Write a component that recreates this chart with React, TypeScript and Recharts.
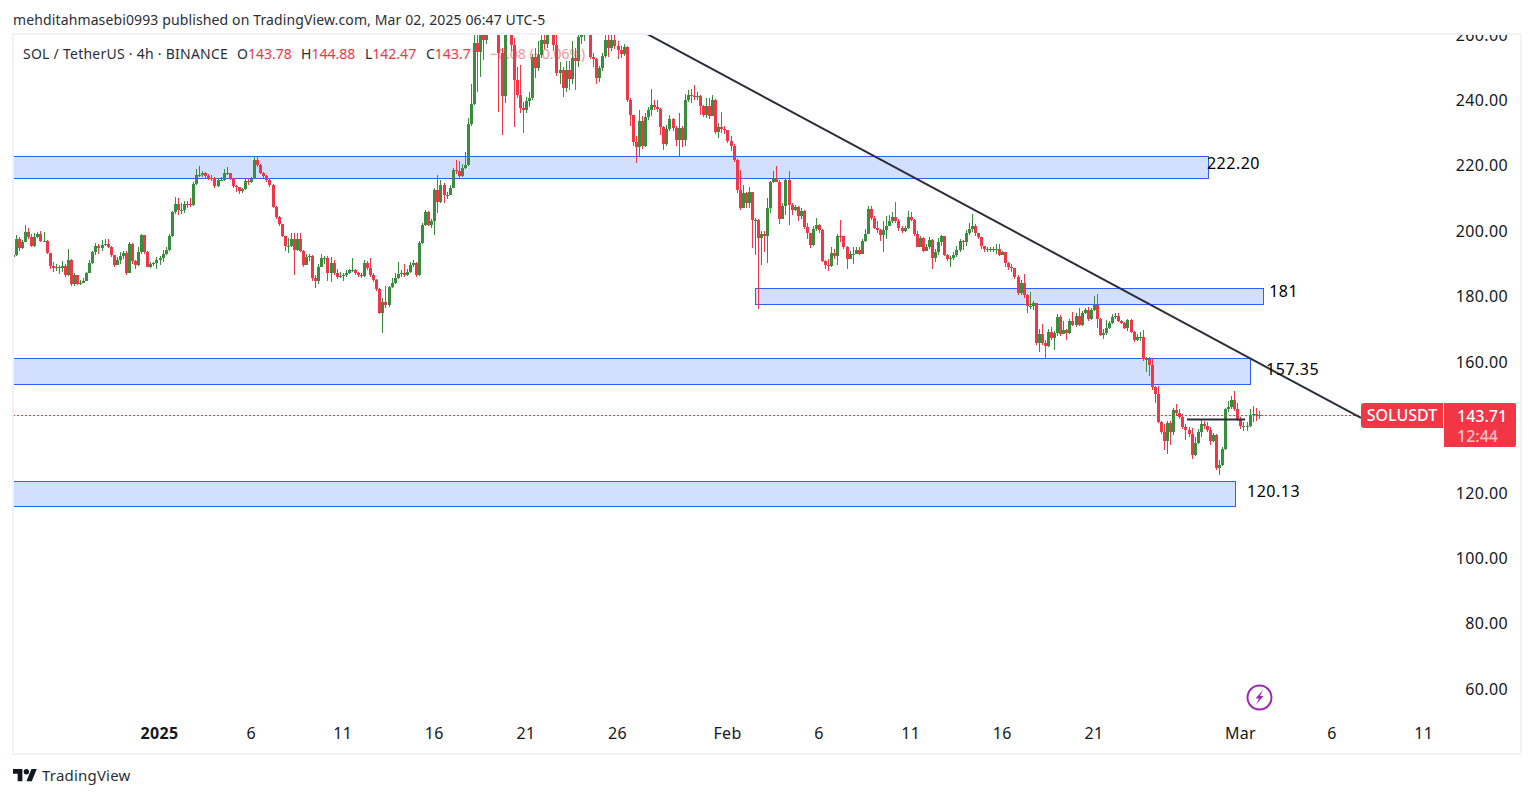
import React from "react";
import {
  ComposedChart,
  Bar,
  XAxis,
  YAxis,
  ReferenceArea,
  ReferenceLine,
  ReferenceDot,
} from "recharts";

const FONT = '"Noto Sans", sans-serif';
const UP = "#388e3c";
const DOWN = "#f23645";
const INK = "#131722";
const ZONE_LINE = "#2962ff";
const ZONE_FILL = "#d3dfff";

// 4h closes from the picture, one line per ten candles
const closes = [
  192.7, 197.5, 194.9, 196.7, 199.6, 198.1, 195.4, 198.1, 199.0, 197.0,
  197.0, 193.2, 189.4, 188.6, 189.1, 188.6, 189.4, 186.5, 191.1, 183.8,
  186.5, 183.8, 184.0, 184.8, 187.1, 190.1, 193.5, 195.4, 194.7, 195.7,
  196.0, 195.0, 192.5, 189.6, 191.1, 192.2, 193.2, 187.1, 196.0, 190.9,
  189.6, 193.5, 198.6, 193.5, 189.1, 189.8, 190.1, 191.1, 191.6, 192.9,
  194.2, 198.3, 205.7, 208.3, 206.4, 206.4, 208.3, 208.2, 208.0, 214.3,
  217.1, 217.1, 217.6, 216.8, 216.3, 216.1, 213.8, 215.6, 215.6, 217.6,
  217.8, 216.1, 213.6, 213.3, 212.2, 212.7, 215.4, 214.8, 215.9, 221.7,
  220.0, 217.8, 216.8, 215.6, 214.1, 207.4, 204.4, 202.1, 198.3, 195.5,
  195.5, 197.6, 194.2, 197.6, 194.0, 189.6, 191.9, 192.2, 185.7, 184.7,
  189.1, 191.6, 191.8, 187.1, 190.3, 187.1, 186.0, 186.3, 186.5, 187.1,
  187.9, 187.9, 187.1, 186.5, 186.2, 190.1, 188.6, 186.5, 185.0, 182.2,
  175.0, 178.4, 177.4, 182.8, 184.0, 185.5, 186.9, 187.1, 186.5, 187.5,
  189.6, 190.1, 186.5, 196.2, 201.8, 205.9, 201.8, 202.9, 212.5, 208.7,
  214.1, 211.0, 211.0, 213.0, 218.7, 218.3, 216.9, 219.2, 220.2, 232.7,
  238.7, 257.4, 254.8, 268.6, 258.4, 270.6, 268.6, 272.7, 264.5, 254.3,
  241.1, 264.5, 269.6, 256.9, 246.2, 241.6, 237.5, 237.0, 239.6, 240.6,
  253.3, 249.9, 253.8, 258.4, 257.2, 261.5, 264.0, 256.9, 248.4, 249.2,
  243.6, 249.2, 246.4, 252.8, 251.8, 259.4, 261.5, 262.5, 263.5, 253.1,
  252.5, 246.7, 249.7, 253.5, 258.4, 255.9, 258.4, 256.4, 255.4, 254.1,
  256.2, 240.1, 235.5, 227.3, 225.5, 233.6, 226.0, 234.7, 237.0, 238.5,
  238.0, 237.2, 231.9, 226.6, 231.1, 234.3, 231.4, 227.8, 231.4, 227.8,
  240.1, 241.6, 241.1, 240.9, 241.1, 238.2, 235.5, 238.3, 235.0, 240.1,
  230.1, 231.7, 231.1, 230.7, 227.6, 226.1, 221.7, 212.5, 206.9, 211.7,
  208.5, 211.9, 203.2, 203.4, 197.8, 199.0, 198.5, 206.9, 214.9, 216.1,
  215.1, 203.7, 207.6, 215.6, 208.0, 206.4, 207.2, 204.6, 206.2, 201.3,
  199.3, 195.7, 200.5, 201.8, 200.3, 190.9, 189.6, 189.4, 193.2, 192.2,
  198.5, 198.3, 195.2, 191.4, 192.9, 193.0, 194.2, 193.0, 196.9, 199.0,
  206.7, 203.8, 201.0, 200.3, 198.8, 200.3, 201.6, 202.9, 204.2, 202.9,
  201.0, 200.1, 200.8, 204.2, 203.4, 199.1, 195.2, 197.8, 194.0, 195.0,
  197.2, 191.8, 193.5, 196.5, 198.3, 192.7, 191.4, 191.6, 192.7, 194.2,
  196.9, 196.5, 199.3, 200.6, 201.5, 199.3, 198.1, 195.5, 194.5, 194.4,
  194.4, 194.5, 194.5, 192.7, 193.5, 190.1, 188.9, 188.8, 186.0, 181.1,
  184.0, 180.4, 176.9, 177.1, 177.9, 165.6, 168.5, 165.6, 164.9, 169.2,
  167.2, 168.7, 173.8, 168.5, 169.7, 168.7, 172.5, 171.3, 174.0, 171.3,
  174.8, 175.8, 173.0, 175.8, 177.4, 173.0, 168.2, 168.7, 170.2, 171.8,
  173.6, 174.0, 172.6, 171.8, 170.4, 172.8, 169.2, 166.5, 167.7, 167.7,
  160.8, 160.8, 159.0, 152.4, 150.2, 141.7, 138.6, 135.9, 141.2, 138.6,
  145.3, 144.2, 143.0, 139.9, 139.1, 137.9, 131.5, 135.1, 138.5, 141.0,
  140.2, 139.1, 135.9, 137.6, 127.4, 128.4, 133.2, 145.4, 146.2, 148.3,
  145.4, 142.4, 140.3, 140.3, 140.3, 143.6, 143.9, 143.78, 143.71,
];

const highs = [
  193.5, 198.8, 198.0, 197.2, 201.8, 200.8, 199.0, 199.5, 199.8, 200.0,
  199.8, 197.2, 193.2, 190.5, 190.0, 189.5, 190.8, 190.0, 194.5, 191.3,
  187.0, 186.5, 185.0, 185.5, 187.5, 191.0, 194.0, 196.3, 196.0, 197.3,
  197.5, 197.5, 195.5, 192.7, 192.0, 193.5, 194.0, 194.0, 196.5, 196.3,
  191.0, 195.0, 199.2, 198.6, 194.0, 190.5, 190.5, 192.0, 192.3, 194.2,
  195.0, 199.0, 206.2, 210.5, 210.0, 208.5, 209.0, 209.0, 210.0, 215.0,
  219.0, 219.7, 218.3, 218.0, 217.5, 217.0, 216.5, 216.2, 216.5, 219.0,
  219.5, 217.5, 216.2, 214.0, 213.5, 213.0, 216.0, 216.2, 216.5, 222.8,
  222.5, 220.5, 218.0, 217.0, 216.0, 214.2, 207.5, 204.5, 202.0, 198.5,
  197.8, 199.5, 199.3, 199.5, 199.5, 194.3, 193.0, 193.0, 192.5, 186.5,
  190.0, 193.0, 192.3, 192.2, 192.0, 191.0, 188.5, 187.3, 187.0, 188.0,
  188.5, 191.6, 188.5, 187.5, 187.0, 191.0, 190.8, 191.6, 187.0, 185.2,
  182.5, 179.5, 183.0, 183.3, 185.5, 187.0, 190.5, 188.0, 190.0, 188.2,
  190.5, 191.0, 190.5, 197.0, 202.5, 206.5, 206.0, 203.5, 213.0, 217.1,
  215.5, 214.5, 212.0, 214.0, 219.3, 221.8, 221.4, 220.5, 224.0, 234.5,
  245.0, 265.0, 262.0, 280.0, 272.0, 275.0, 280.0, 282.0, 275.0, 268.0,
  256.0, 268.0, 272.0, 272.0, 259.0, 250.0, 250.8, 239.5, 241.0, 242.5,
  254.0, 256.0, 258.0, 262.0, 263.0, 266.0, 270.0, 268.0, 262.0, 251.5,
  250.0, 252.0, 252.0, 258.0, 256.0, 262.0, 264.0, 266.0, 270.0, 262.0,
  254.5, 253.0, 250.5, 254.5, 260.2, 260.0, 260.5, 260.0, 258.0, 256.5,
  257.0, 256.5, 240.5, 235.5, 229.0, 237.0, 235.0, 236.0, 238.0, 243.5,
  240.0, 240.0, 237.5, 232.0, 232.5, 235.5, 234.5, 232.0, 236.0, 232.0,
  242.0, 243.0, 243.5, 244.6, 242.5, 241.5, 238.5, 240.5, 240.5, 241.5,
  240.3, 233.0, 236.5, 232.0, 231.0, 229.0, 226.5, 222.0, 218.7, 214.0,
  212.0, 213.5, 212.0, 204.0, 203.5, 200.0, 200.0, 210.0, 215.3, 218.3,
  219.9, 215.5, 208.5, 216.0, 218.3, 208.5, 208.0, 207.5, 207.0, 206.5,
  202.5, 199.5, 201.5, 203.8, 202.0, 200.5, 191.0, 191.5, 195.0, 194.5,
  199.0, 203.4, 198.5, 195.5, 194.0, 195.0, 195.0, 195.2, 197.5, 200.5,
  207.5, 207.5, 204.5, 203.0, 200.5, 203.0, 204.5, 205.0, 205.8, 208.8,
  203.5, 201.5, 201.5, 206.0, 205.7, 203.5, 200.0, 198.5, 198.0, 196.0,
  198.0, 197.5, 194.5, 197.8, 198.7, 198.4, 192.8, 192.2, 193.5, 195.5,
  197.5, 197.2, 200.2, 202.5, 205.1, 202.2, 199.5, 198.2, 195.5, 195.0,
  195.0, 195.2, 196.0, 196.0, 193.9, 193.7, 190.5, 189.8, 188.5, 186.5,
  185.0, 186.9, 180.7, 181.2, 178.5, 178.0, 170.0, 171.6, 166.5, 170.0,
  170.5, 169.5, 174.5, 174.2, 172.5, 170.0, 173.2, 175.3, 175.0, 176.4,
  175.5, 176.5, 176.6, 176.5, 180.1, 180.6, 173.5, 170.0, 172.8, 172.5,
  174.5, 175.0, 175.0, 172.8, 172.0, 173.2, 173.0, 169.4, 168.5, 169.0,
  169.7, 161.5, 161.5, 161.2, 152.6, 152.6, 141.8, 141.0, 141.8, 142.0,
  146.0, 147.0, 145.5, 144.0, 141.0, 140.0, 139.8, 137.0, 139.5, 142.5,
  142.0, 141.5, 140.0, 138.3, 138.0, 130.0, 134.0, 146.0, 148.0, 149.5,
  151.1, 147.5, 143.0, 141.5, 141.5, 145.5, 146.5, 145.8, 144.88,
];

const lows = [
  190.6, 192.3, 194.0, 194.5, 196.5, 197.5, 195.0, 195.0, 197.8, 196.5,
  196.5, 193.0, 188.5, 187.5, 187.6, 186.7, 187.5, 186.0, 186.3, 183.2,
  183.0, 183.5, 183.6, 184.2, 184.7, 187.0, 190.0, 192.5, 193.0, 194.0,
  195.3, 194.8, 192.0, 189.0, 189.7, 190.0, 191.5, 186.5, 187.0, 190.0,
  188.5, 189.4, 193.0, 193.0, 189.0, 188.8, 189.2, 188.5, 189.5, 190.5,
  192.6, 194.0, 198.0, 205.3, 205.0, 205.2, 205.6, 207.0, 207.3, 207.5,
  214.0, 216.5, 216.5, 216.3, 215.6, 215.2, 213.2, 213.5, 215.2, 215.4,
  217.0, 215.5, 213.0, 212.0, 211.2, 211.5, 212.5, 214.0, 214.5, 215.8,
  219.5, 217.3, 216.2, 215.0, 213.5, 207.0, 203.5, 201.5, 198.0, 194.0,
  193.2, 195.0, 186.5, 194.0, 193.7, 189.0, 189.5, 190.8, 184.7, 182.4,
  183.8, 189.0, 190.0, 184.6, 184.5, 186.6, 185.4, 185.5, 184.6, 186.0,
  186.8, 187.4, 186.6, 186.0, 185.5, 185.8, 188.0, 186.0, 184.4, 181.6,
  174.5, 168.9, 176.5, 176.8, 182.5, 183.8, 185.2, 186.0, 186.0, 186.2,
  187.0, 189.0, 186.0, 186.2, 196.0, 201.5, 201.5, 201.0, 198.6, 205.5,
  208.5, 208.5, 209.8, 211.0, 213.0, 217.5, 215.8, 216.5, 219.0, 219.8,
  232.0, 238.4, 242.6, 247.2, 252.3, 257.0, 265.0, 266.0, 260.0, 236.5,
  229.4, 239.0, 262.0, 255.0, 231.9, 240.5, 236.0, 230.0, 235.9, 238.0,
  240.0, 246.6, 249.0, 253.0, 255.5, 256.0, 260.0, 255.0, 247.5, 245.0,
  241.0, 242.5, 243.0, 245.0, 243.0, 250.0, 257.0, 258.0, 260.0, 252.5,
  250.0, 245.0, 245.5, 249.0, 253.0, 253.3, 255.0, 255.5, 252.5, 253.0,
  253.5, 239.5, 232.0, 226.0, 220.9, 223.0, 225.0, 225.5, 234.0, 235.0,
  237.0, 236.5, 229.4, 224.7, 226.0, 230.5, 230.5, 226.0, 222.7, 225.5,
  226.0, 239.5, 239.0, 240.0, 240.0, 235.5, 234.7, 234.5, 234.3, 235.0,
  229.5, 228.5, 230.0, 229.5, 227.0, 224.5, 221.0, 211.5, 206.5, 206.9,
  207.0, 206.9, 194.7, 192.7, 176.0, 189.6, 193.7, 190.1, 205.5, 214.5,
  214.8, 202.0, 203.5, 205.0, 201.8, 205.0, 206.0, 203.0, 203.5, 200.5,
  197.5, 194.8, 195.5, 200.0, 199.5, 190.5, 188.3, 187.6, 189.0, 191.5,
  189.5, 196.5, 194.5, 188.3, 191.5, 190.0, 193.0, 192.5, 192.8, 196.5,
  199.0, 203.3, 200.5, 199.5, 197.0, 193.7, 197.5, 201.5, 202.5, 202.4,
  200.0, 199.5, 199.8, 200.5, 202.9, 198.5, 195.0, 195.0, 193.5, 194.0,
  194.5, 188.5, 190.5, 192.5, 195.5, 192.2, 190.8, 189.0, 191.0, 192.0,
  193.7, 194.2, 195.5, 198.8, 199.8, 198.5, 197.5, 194.5, 193.6, 193.5,
  193.4, 193.6, 192.9, 192.2, 192.5, 189.0, 188.0, 187.5, 185.3, 180.5,
  180.3, 179.5, 174.8, 176.2, 175.7, 165.0, 163.1, 165.0, 160.9, 164.5,
  166.5, 163.5, 168.0, 168.0, 168.7, 166.5, 168.5, 171.0, 170.5, 170.8,
  170.9, 174.5, 172.5, 172.8, 175.5, 170.2, 167.8, 167.0, 168.2, 170.0,
  171.5, 173.2, 172.2, 171.4, 170.0, 169.5, 168.7, 166.0, 166.3, 166.2,
  160.3, 156.8, 155.5, 151.5, 147.5, 141.2, 137.9, 133.0, 131.8, 134.6,
  137.5, 143.5, 142.5, 139.5, 136.0, 137.0, 130.3, 131.2, 134.8, 137.0,
  139.5, 138.5, 134.5, 135.5, 127.0, 125.4, 128.0, 133.0, 144.5, 145.5,
  145.0, 142.0, 139.5, 138.7, 138.7, 140.0, 141.6, 141.8, 142.47,
];

// 140.00 sits behind the price tag in the picture, so it is left out
const priceTicks = [60, 80, 100, 120, 160, 180, 200, 220, 240, 260];
// days counted from Jan 1
const timeTicks = [0, 5, 10, 15, 20, 25, 31, 36, 41, 46, 51, 59, 64, 69];
const timeLabels = ["2025", "6", "11", "16", "21", "26", "Feb", "6", "11", "16", "21", "Mar", "6", "11"];

// [start day, end day, top price, bottom price]
const zones = [
  [-12, 57.23, 222.75, 215.9],
  [32.53, 60.26, 182.42, 177.37],
  [-12, 59.57, 161.0, 153.06],
  [-12, 58.73, 123.4, 115.75],
];
const zoneNotes = [
  ["222.20", 57.17, 220.8],
  ["181", 60.57, 181.65],
  ["157.35", 60.4, 157.8],
  ["120.13", 59.36, 120.5],
];

const LAST_PRICE = 143.71;

const candles = closes.map((close, i) => ({
  day: -8 + i / 6,
  open: i === 0 ? 192 : closes[i - 1],
  close,
  high: highs[i],
  low: lows[i],
  range: [lows[i], highs[i]],
}));

function Candle(props: any) {
  const { x, y, width, height, payload } = props;
  const { open, close, high, low } = payload;
  const perUnit = height / (high - low);
  const color = close >= open ? UP : DOWN;
  const cx = Math.round(x + width / 2);
  const bodyTop = y + (high - Math.max(open, close)) * perUnit;
  const bodyH = Math.max(1, Math.abs(open - close) * perUnit);
  return (
    <g shapeRendering="crispEdges">
      <rect x={cx} y={y} width={1} height={height} fill={color} />
      <rect x={cx - 1} y={bodyTop} width={3} height={bodyH} fill={color} />
    </g>
  );
}

function PriceTick({ x, y, payload }: any) {
  return (
    <text x={x + 56} y={y} dy={6} textAnchor="end" fontSize={16} letterSpacing={0.35} fontFamily={FONT} fill={INK}>
      {payload.value.toFixed(2)}
    </text>
  );
}

function TimeTick({ x, y, index }: any) {
  const label = timeLabels[index];
  return (
    <text
      x={x}
      y={y}
      dy={13}
      textAnchor="middle"
      fontSize={16}
      letterSpacing={0.35}
      fontWeight={label === "2025" ? 700 : 400}
      fontFamily={FONT}
      fill={INK}
    >
      {label}
    </text>
  );
}

const legendText = { position: "absolute", top: 44, fontSize: 14, whiteSpace: "pre" } as const;

function Overlay() {
  const ink = "#2a2e39";
  const legendValues = [
    ["O", "143.78", 237],
    ["H", "144.88", 301],
    ["L", "142.47", 365],
  ];
  return (
    <>
      <div style={{ position: "absolute", left: 0, top: 0, width: 1533, height: 33, background: "#fff" }} />
      <div style={{ position: "absolute", left: 13, top: 10, fontSize: 14, letterSpacing: 0.125, color: ink, whiteSpace: "nowrap" }}>
        mehditahmasebi0993 published on TradingView.com, Mar 02, 2025 06:47 UTC-5
      </div>
      <div style={{ ...legendText, left: 23, color: ink, letterSpacing: 0.25 }}>SOL / TetherUS · 4h · BINANCE</div>
      {legendValues.map(([k, v, left]) => (
        <div key={k} style={{ ...legendText, left: left as number, color: ink }}>
          {k}
          <span style={{ color: DOWN }}>{v}</span>
        </div>
      ))}
      <div style={{ ...legendText, left: 426, color: ink }}>
        C<span style={{ color: DOWN }}>143.7</span>
        <span style={{ color: DOWN, opacity: 0.3 }}>1</span>
      </div>
      <div style={{ ...legendText, left: 490, color: DOWN, opacity: 0.55 }}>−0.08 (−0.06%)</div>
      <div
        style={{
          position: "absolute", left: 12, top: 33, width: 1506, height: 718,
          border: "2px solid #f0f3fa", pointerEvents: "none",
        }}
      />
      <div
        style={{
          position: "absolute", left: 1361, top: 403, width: 82, height: 25, background: DOWN, color: "#fff",
          borderRadius: "3px 0 0 3px", fontSize: 16, fontWeight: 500, textAlign: "center", lineHeight: "25px",
        }}
      >
        SOLUSDT
      </div>
      <div
        style={{
          position: "absolute", left: 1444, top: 403, width: 72, height: 44, background: DOWN, color: "#fff",
          borderRadius: "0 2px 2px 0", fontSize: 16, fontWeight: 500,
        }}
      >
        <div style={{ position: "absolute", top: 2, left: 13, lineHeight: "22px" }}>143.71</div>
        <div style={{ position: "absolute", top: 22, left: 13, lineHeight: "22px", opacity: 0.7 }}>12:44</div>
      </div>
      <svg style={{ position: "absolute", left: 0, top: 0, pointerEvents: "none" }} width={1533} height={798}>
        <g transform="translate(13 766.4) scale(0.67)" fill="#131722">
          <path d="M14 22H7V11H0V4h14v18zM28 22h-8l7.5-18h8L28 22z" />
          <circle cx="20" cy="8" r="4" />
        </g>
        <circle cx={1259.5} cy={697.5} r={12} fill="#fff" stroke="#9c27b0" strokeWidth={2} />
        <path d="M1263 690l-7.5 8.5h3.5l-3 6 7.5-8.5h-3.5z" fill="#9c27b0" />
      </svg>
      <div style={{ position: "absolute", left: 42, top: 765, fontSize: 15, letterSpacing: 0.2, color: ink }}>TradingView</div>
    </>
  );
}

export default function App() {
  return (
    <div
      style={{
        position: "absolute", left: 0, top: 0, width: 1533, height: 798,
        overflow: "hidden", background: "#fff", fontFamily: FONT,
      }}
    >
      <ComposedChart
        width={1533}
        height={798}
        data={candles}
        margin={{ top: 34, right: 13, left: 13, bottom: 45 }}
      >
        <XAxis
          dataKey="day"
          type="number"
          domain={[-8, 70.11]}
          allowDataOverflow
          ticks={timeTicks}
          interval={0}
          height={35}
          axisLine={false}
          tickLine={false}
          tick={<TimeTick />}
        />
        <YAxis
          orientation="right"
          type="number"
          domain={[51.07, 260.2]}
          allowDataOverflow
          ticks={priceTicks}
          interval={0}
          width={76}
          axisLine={false}
          tickLine={false}
          tick={<PriceTick />}
        />
        {zones.map(([x1, x2, y1, y2], i) => (
          <ReferenceArea
            key={i}
            x1={x1}
            x2={x2}
            y1={y1}
            y2={y2}
            fill={ZONE_FILL}
            fillOpacity={1}
            stroke={ZONE_LINE}
            strokeWidth={1}
            shapeRendering="crispEdges"
            ifOverflow="hidden"
          />
        ))}
        <ReferenceLine
          segment={[
            { x: -8, y: LAST_PRICE },
            { x: 65.58, y: LAST_PRICE },
          ]}
          stroke={DOWN}
          strokeWidth={1}
          strokeDasharray="2 2"
          shapeRendering="crispEdges"
        />
        <Bar
          dataKey="range"
          barSize={3}
          isAnimationActive={false}
          shape={<Candle />}
        />
        <ReferenceLine
          segment={[
            { x: 26.5, y: 260.55 },
            { x: 65.58, y: 142.8 },
          ]}
          stroke="#2a2e39"
          strokeWidth={2}
          ifOverflow="hidden"
        />
        <ReferenceLine
          segment={[
            { x: 56.08, y: 142.3 },
            { x: 59.25, y: 142.3 },
          ]}
          stroke="#2a2e39"
          strokeWidth={2}
        />
        {zoneNotes.map(([text, x, y]) => (
          <ReferenceDot
            key={text as string}
            x={x as number}
            y={y as number}
            r={0}
            shape={(p: any) => (
              <text x={p.cx} y={p.cy} dy={6} fontSize={16} letterSpacing={0.5} fontFamily={FONT} fill="#000">
                {text}
              </text>
            )}
          />
        ))}
      </ComposedChart>
      <Overlay />
    </div>
  );
}
